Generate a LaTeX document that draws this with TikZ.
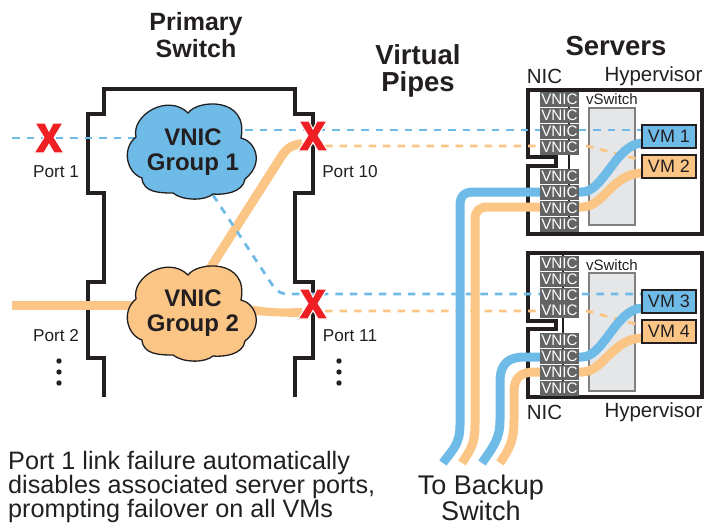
\documentclass[tikz,border=0pt]{standalone}
\usepackage{fontspec}
\setmainfont{Liberation Sans}
\usetikzlibrary{calc}
\definecolor{pblue}{HTML}{6FBBE8}
\definecolor{porange}{HTML}{FBC586}
\definecolor{xred}{HTML}{EE2024}
\definecolor{ink}{HTML}{231F20}
\definecolor{vgray}{HTML}{636466}
\definecolor{swgray}{HTML}{E4E6E7}
\tikzset{
  x=1pt,y=-1pt,
  outline/.style={draw=ink,line width=3.2pt,line join=miter},
  cloudshape/.style={draw=ink,line width=1.3pt},
  thickpipe/.style={line width=9pt},
  vdash/.style={line width=2.8pt,dash pattern=on 7.5pt off 7pt},
  vnic/.style={fill=vgray,text=white,minimum width=39pt,minimum height=15pt,inner sep=0pt,font=\fontsize{15.2}{15}\selectfont},
  vmbox/.style={draw=ink,line width=1.5pt,minimum width=54pt,minimum height=23pt,inner sep=0pt,text=ink,font=\fontsize{18}{18}\selectfont},
  swbox/.style={draw=gray,fill=swgray,line width=1.2pt,minimum width=46pt,inner sep=0pt},
  lab/.style={text=ink,inner sep=0pt,font=\fontsize{20.5}{20.5}\selectfont},
  portlab/.style={text=ink,inner sep=0pt,font=\fontsize{17.2}{17}\selectfont},
  small/.style={text=ink,inner sep=0pt,font=\fontsize{15}{15}\selectfont},
  title/.style={text=ink,inner sep=0pt,align=center,font=\fontsize{25}{26.5}\selectfont\bfseries},
  titlebig/.style={text=ink,inner sep=0pt,align=center,font=\fontsize{27.5}{27}\selectfont\bfseries},
  cloudlab/.style={text=ink,inner sep=0pt,align=center,font=\fontsize{24}{25}\selectfont\bfseries},
  bigtext/.style={text=ink,inner sep=0pt,font=\fontsize{25.2}{24.5}\selectfont},
  backuptext/.style={text=ink,inner sep=0pt,align=center,font=\fontsize{27}{25}\selectfont},
  pdot/.style={fill=ink,circle,minimum size=5.4pt,inner sep=0pt}
}
\newcommand{\cloudat}[3]{%
  \begin{scope}[shift={(#1,#2)}]
    \path[cloudshape,fill=#3] (-57,-28) .. controls (-62,-50) and (-25,-72) .. (-5,-52)
      .. controls (5,-66) and (56,-68) .. (48,-27)
      .. controls (62,-24) and (72,-2) .. (52,14)
      .. controls (50,28) and (30,30) .. (20,29)
      .. controls (12,36) and (-10,36) .. (-20,28)
      .. controls (-32,28) and (-50,28) .. (-51,13)
      .. controls (-66,8) and (-72,-16) .. (-57,-28) -- cycle;
  \end{scope}}
\newcommand{\failmark}[2]{%
  \begin{scope}[shift={(#1,#2)}]
    \path[fill=xred,draw=white,line width=1.1pt,line join=miter]
      (-14,-15) -- (-4,-15) -- (0,-7) -- (4,-15) -- (14,-15) -- (5.2,-0.5) -- (15,15) -- (5,15)
      -- (0,6.5) -- (-5,15) -- (-15,15) -- (-5.2,-0.5) -- cycle;
  \end{scope}}
\begin{document}
\begin{tikzpicture}
\useasboundingbox (0,0) rectangle (705,525);
% named anchors
\coordinate (p1end) at (12,138);
\coordinate (p2end) at (12,305.5);
\coordinate (g1in) at (140,138);
\coordinate (g2in) at (140,305.5);
\coordinate (g1out) at (245,130);
\coordinate (g1low) at (213,195);
\coordinate (g2up) at (209,270);
\coordinate (vm1d) at (643,130);
\coordinate (vm3d) at (643,294);
\coordinate (vm2d) at (643,160.5);
\coordinate (vm4d) at (643,326);
% switch outline
\draw[outline] (104,397) -- (104,358) -- (88,358) -- (88,282) -- (104,282) -- (104,193) -- (88,193) -- (88,114) -- (104,114) -- (104,89)
  -- (295,89) -- (295,114) -- (313,114) -- (313,193) -- (295,193) -- (295,282) -- (313,282) -- (313,358) -- (295,358) -- (295,397);
% server boxes
\draw[outline] (528,157) -- (528,90) -- (702,90) -- (702,234) -- (528,234) -- (528,166) -- (556,166) -- (556,157) -- cycle;
\draw[outline] (528,321) -- (528,253) -- (702,253) -- (702,397) -- (528,397) -- (528,329) -- (556,329) -- (556,321) -- cycle;
\draw[ink,line width=1.8pt] (569,90) -- (569,234);
\draw[ink,line width=1.8pt] (563,253) -- (563,397);
% vswitch
\node[swbox,minimum height=117pt] (sw1) at (612,166.5) {};
\node[swbox,minimum height=118pt] (sw2) at (612,332) {};
% thick links
\fill[porange] (253,305.5) .. controls (270,309) and (285,308.5) .. (302,308) -- (302,317) .. controls (285,317) and (270,316) .. (253,315) -- cycle;
\draw[thickpipe,porange] (p2end) -- (g2in);
\draw[thickpipe,porange] (g2up) -- (283,154) .. controls (289,146) and (295,144.5) .. (302,143.5);
% dashed
\draw[vdash,pblue] (p1end) -- (g1in);
\draw[vdash,pblue] (g1out) -- (vm1d);
\draw[vdash,pblue] (g1low) -- (273,286) .. controls (278,292) and (281,294) .. (289,294) -- (vm3d);
\draw[vdash,porange] (325,146) -- (587,146) -- (vm2d);
\draw[vdash,porange] (325,311) -- (587,311) -- (vm4d);
% pipes to VMs and backup
\draw[thickpipe,pblue] (443,463) .. controls (452,450) and (460,445) .. (460,425) -- (460,206) .. controls (460,196) and (464,192) .. (474,192) -- (582,192) .. controls (604,192) and (616,143) .. (643,143);
\draw[thickpipe,porange] (462,463) .. controls (470,450) and (475,445) .. (475,425) -- (475,220) .. controls (475,211) and (479,207) .. (488,207) -- (582,207) .. controls (604,207) and (612,173) .. (643,173);
\draw[thickpipe,pblue] (482,463) .. controls (492,448) and (500,440) .. (500,420) -- (500,382) .. controls (500,362) and (510,357) .. (525,357) -- (582,357) .. controls (604,357) and (616,308) .. (643,308);
\draw[thickpipe,porange] (500,463) .. controls (510,448) and (514,440) .. (514,420) -- (514,392) .. controls (514,378) and (520,372) .. (535,372) -- (582,372) .. controls (604,372) and (612,338) .. (643,338);
% clouds
\cloudat{193}{165}{pblue}
\cloudat{193}{327}{porange}
\node[cloudlab] (group1) at (193,152.5) {VNIC\\Group 1};
\node[cloudlab] (group2) at (193,313.5) {VNIC\\Group 2};
% VNIC stacks
\foreach \n/\y in {a/99.5,b/115.5,c/131.5,d/147,e/176.5,f/192.5,g/208.5,h/224.5}
  \node[vnic] (n1\n) at (559.5,\y) {VNIC};
\foreach \n/\y in {a/263.5,b/279.5,c/295,d/310.5,e/340.5,f/356.5,g/372.5,h/388.5}
  \node[vnic] (n2\n) at (559.5,\y) {VNIC};
% VMs
\node[vmbox,fill=pblue] (vm1) at (669,136.5) {VM 1};
\node[vmbox,fill=porange] (vm2) at (669,166.5) {VM 2};
\node[vmbox,fill=pblue] (vm3) at (669,301.5) {VM 3};
\node[vmbox,fill=porange] (vm4) at (669,331.5) {VM 4};
% failure marks
\failmark{49}{138}
\failmark{313}{136}
\failmark{313}{304}
% labels
\node[title] (tprimary) at (196,35) {Primary\\Switch};
\node[titlebig] (tpipes) at (418,70.5) {Virtual\\Pipes};
\node[titlebig] (tservers) at (616,46) {Servers};
\node[lab] (nic1) at (544.5,76) {NIC};
\node[lab] (hyp1) at (653.5,76) {Hypervisor};
\node[lab] (nic2) at (544.5,412) {NIC};
\node[lab] (hyp2) at (653.5,412) {Hypervisor};
\node[small] (vs1) at (612,99) {vSwitch};
\node[small] (vs2) at (612,265) {vSwitch};
\node[portlab] (port1) at (56,172) {Port 1};
\node[portlab] (port2) at (56,336) {Port 2};
\node[portlab] (port10) at (350,172) {Port 10};
\node[portlab] (port11) at (350,336) {Port 11};
\foreach \i/\x/\y in {a/59/361,b/59/372,c/59/383,d/339/361,e/339/372,f/339/383}
  \node[pdot] (dot\i) at (\x,\y) {};
\node[bigtext,anchor=west] (note1) at (8,463) {Port 1 link failure automatically};
\node[bigtext,anchor=west] (note2) at (8,487) {disables associated server ports,};
\node[bigtext,anchor=west] (note3) at (8,511) {prompting failover on all VMs};
\node[backuptext] (backup) at (481,497.5) {To Backup\\Switch};
\end{tikzpicture}
\end{document}
